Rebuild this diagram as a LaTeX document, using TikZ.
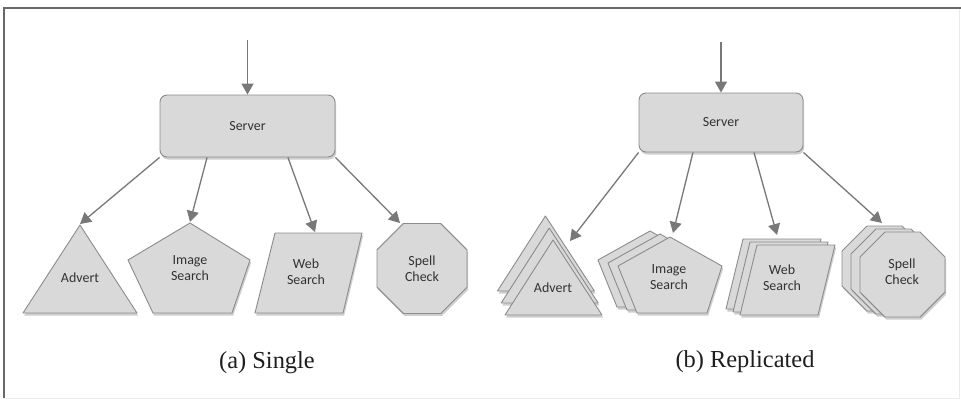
\documentclass[tikz,border=0pt]{standalone}
\usepackage{fontspec}
\usetikzlibrary{arrows.meta,shadows,calc}
\newfontfamily\labelfont{Carlito}
\newfontfamily\captionfont{Liberation Serif}
\definecolor{shapefill}{RGB}{217,217,217}
\definecolor{shapeline}{RGB}{140,140,140}
\definecolor{arrowgray}{RGB}{120,120,120}
\definecolor{labelgray}{RGB}{50,50,50}
\definecolor{framegray}{RGB}{105,105,105}
\definecolor{captiongray}{RGB}{30,30,30}

\begin{document}
\begin{tikzpicture}[x=1bp,y=-1bp,
  shp/.style={fill=shapefill,draw=shapeline,line width=0.9bp,line join=round,
    drop shadow={shadow xshift=1.2bp,shadow yshift=-2.5bp,opacity=0.35,fill=black!55}},
  lbl/.style={font=\labelfont\fontsize{14}{16}\selectfont,text=labelgray,align=center,inner sep=0pt},
  conn/.style={draw=arrowgray,line width=1.3bp,-{Triangle[length=11bp,width=12bp]}},
  captext/.style={font=\captionfont\fontsize{24.5}{28}\selectfont,text=captiongray,inner sep=0pt},
  server/.style={shp,lbl,rounded corners=7bp}
]
\fill[white] (0,0) rectangle (961,401);
\useasboundingbox (0,0) rectangle (961,401);

% frame
\draw[black!8,line width=0.8bp] (4,398) -- (959,398) -- (959,8);
\draw[framegray,line width=1.3bp] (4,398) -- (4,8) -- (961,8);

% ---------- (a) single ----------
\node[server,minimum width=175bp,minimum height=62bp] (srvA) at (247.5,126) {Server};
\coordinate (inA) at (247.5,40);

\draw[shp] (80,225) -- (137,313) -- (23,313) -- cycle;
\draw[shp] (190,223) -- (250,260) -- (232,313) -- (153,313) -- (128,260) -- cycle;
\draw[shp] (275,233) -- (362,233) -- (343,313) -- (255,313) -- cycle;
\draw[shp] (422,268.5) +(22.5:48.7) -- +(67.5:48.7) -- +(112.5:48.7) -- +(157.5:48.7)
  -- +(202.5:48.7) -- +(247.5:48.7) -- +(292.5:48.7) -- +(337.5:48.7) -- cycle;

\node[lbl] (advA) at (80,278) {Advert};
\node[lbl] (imgA) at (190,268) {Image\\Search};
\node[lbl] (webA) at (306,272) {Web\\Search};
\node[lbl] (splA) at (422,268.5) {Spell\\Check};

\coordinate (tA1) at (80,224);
\coordinate (tA2) at (190,222);
\coordinate (tA3) at (315,232);
\coordinate (tA4) at (400,223);

\draw[conn] (inA) -- (srvA.north);
\draw[conn] (srvA.south west) -- (tA1);
\draw[conn] ($(srvA.south west)!0.27!(srvA.south east)$) -- (tA2);
\draw[conn] ($(srvA.south west)!0.73!(srvA.south east)$) -- (tA3);
\draw[conn] (srvA.south east) -- (tA4);

\node[captext] (capA) at (267,363) {(a) Single};

% ---------- (b) replicated ----------
\node[server,minimum width=164bp,minimum height=59bp] (srvB) at (721,122.5) {Server};
\coordinate (inB) at (721,42);

\foreach \k in {2,1,0}{
  \draw[shp,shift={(-3.8*\k,-12*\k)}] (553,240) -- (602,315) -- (505,315) -- cycle;
  \draw[shp,shift={(-10*\k,-3*\k)}] (670,237) -- (722,266) -- (707,313) -- (637,313) -- (618,266) -- cycle;
  \draw[shp,shift={(-7*\k,-3*\k)}] (757,245) -- (835,245) -- (818,315) -- (740,315) -- cycle;
  \draw[shp,shift={(-9*\k,-3*\k)}] (902.5,274.5) +(22.5:46) -- +(67.5:46) -- +(112.5:46) -- +(157.5:46)
    -- +(202.5:46) -- +(247.5:46) -- +(292.5:46) -- +(337.5:46) -- cycle;
}

\node[lbl] (advB) at (553,288) {Advert};
\node[lbl] (imgB) at (669,277) {Image\\Search};
\node[lbl] (webB) at (782,278) {Web\\Search};
\node[lbl] (splB) at (902,272) {Spell\\Check};

\coordinate (tB1) at (570,241);
\coordinate (tB2) at (673,233);
\coordinate (tB3) at (777,235);
\coordinate (tB4) at (882,223);

\draw[conn] (inB) -- (srvB.north);
\draw[conn] (srvB.south west) -- (tB1);
\draw[conn] ($(srvB.south west)!0.33!(srvB.south east)$) -- (tB2);
\draw[conn] ($(srvB.south west)!0.70!(srvB.south east)$) -- (tB3);
\draw[conn] (srvB.south east) -- (tB4);

\node[captext] (capB) at (745,362) {(b) Replicated};
\end{tikzpicture}
\end{document}
